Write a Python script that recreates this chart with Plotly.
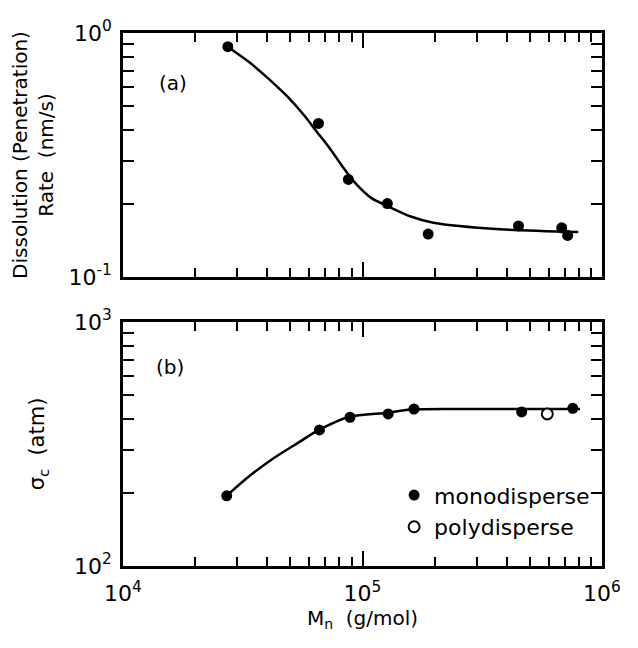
import plotly.graph_objects as go
from plotly.subplots import make_subplots

# (a) dissolution rate, monodisperse points
rate_mn = [27400, 65500, 87300, 127000, 188000, 448000, 679000, 719000]
rate_val = [0.879, 0.426, 0.251, 0.200, 0.150, 0.162, 0.159, 0.148]
# (a) hand-drawn trend curve
rate_curve_mn = [27350, 33500, 40360, 48640, 56890, 64420, 72950, 82600, 93540,
                 109400, 127600, 158900, 197700, 375000, 796000]
rate_curve_val = [0.879, 0.762, 0.652, 0.548, 0.461, 0.394, 0.337, 0.283, 0.242,
                  0.210, 0.195, 0.177, 0.167, 0.157, 0.153]

# (b) critical stress
sig_mono_mn = [27100, 66100, 88700, 128000, 164000, 462000, 755000]
sig_mono_val = [194, 361, 407, 420, 440, 428, 443]
sig_poly_mn = [591000]
sig_poly_val = [420]
sig_curve_mn = [27100, 33420, 41500, 53330, 65770, 87700, 127400, 158500, 300000, 500000, 809000]
sig_curve_val = [194, 232, 272, 318, 361, 408, 425, 438, 440, 440, 440]

x_tickvals = [1e4, 1e5, 1e6]
x_ticktext = ["10<sup>4</sup>", "10<sup>5</sup>", "10<sup>6</sup>"]
ya_tickvals = [0.1, 1]
ya_ticktext = ["10<sup>-1</sup>", "10<sup>0</sup>"]
yb_tickvals = [100, 1000]
yb_ticktext = ["10<sup>2</sup>", "10<sup>3</sup>"]

FONT = "DejaVu Sans"
fig = make_subplots(rows=2, cols=1, shared_xaxes=False, vertical_spacing=0.0845)

fig.add_trace(go.Scatter(x=rate_curve_mn, y=rate_curve_val, mode="lines",
                         line=dict(color="black", width=2.5, shape="spline", smoothing=0.8),
                         showlegend=False, hoverinfo="skip"), row=1, col=1)
fig.add_trace(go.Scatter(x=rate_mn, y=rate_val, mode="markers", marker=dict(color="black", size=11),
                         showlegend=False), row=1, col=1)

fig.add_trace(go.Scatter(x=sig_curve_mn, y=sig_curve_val, mode="lines",
                         line=dict(color="black", width=2.5, shape="spline", smoothing=0.8),
                         showlegend=False, hoverinfo="skip"), row=2, col=1)
fig.add_trace(go.Scatter(x=sig_mono_mn, y=sig_mono_val, mode="markers", name="monodisperse",
                         marker=dict(color="black", size=11)), row=2, col=1)
fig.add_trace(go.Scatter(x=sig_poly_mn, y=sig_poly_val, mode="markers", name="polydisperse",
                         marker=dict(color="white", size=11, symbol="circle", line=dict(color="black", width=2))),
              row=2, col=1)

def minor_vals(lo, hi):
    return [m * 10 ** e for e in range(lo, hi) for m in range(2, 10)]

common = dict(type="log", showline=True, linecolor="black", linewidth=2.5, mirror="allticks",
              ticks="inside", ticklen=15, tickwidth=2, tickcolor="black", showgrid=False, zeroline=False,
              automargin=False, tickfont=dict(family=FONT, size=22, color="black"))

fig.update_xaxes(range=[4, 6], tickvals=x_tickvals, ticktext=x_ticktext,
                 minor=dict(tickvals=minor_vals(4, 6), ticks="inside", ticklen=9, tickwidth=1.5,
                            tickcolor="black", showgrid=False),
                 **common)
fig.update_xaxes(showticklabels=False, row=1, col=1)
fig.update_xaxes(ticklabelstandoff=6,
                 title=dict(text="M<sub>n</sub>  (g/mol)", font=dict(family=FONT, size=20, color="black"), standoff=6),
                 row=2, col=1)

fig.update_yaxes(range=[-1, 0], tickvals=ya_tickvals, ticktext=ya_ticktext,
                 minor=dict(tickvals=minor_vals(-1, 0), ticks="inside", ticklen=11, tickwidth=1.5,
                            tickcolor="black", showgrid=False),
                 title=dict(text="Dissolution (Penetration)<br>Rate  (nm/s)",
                            font=dict(family=FONT, size=20, color="black"), standoff=10),
                 ticklabelstandoff=4, row=1, col=1, **common)
fig.update_yaxes(range=[2, 3], tickvals=yb_tickvals, ticktext=yb_ticktext,
                 minor=dict(tickvals=minor_vals(2, 3), ticks="inside", ticklen=11, tickwidth=1.5,
                            tickcolor="black", showgrid=False),
                 title=dict(text="σ<sub>c</sub>  (atm)", font=dict(family=FONT, size=21, color="black"), standoff=24),
                 ticklabelstandoff=4, row=2, col=1, **common)

fig.add_annotation(text="(a)", xref="x domain", yref="y domain", x=0.104, y=0.795, showarrow=False,
                   font=dict(family=FONT, size=20, color="black"), xanchor="center", yanchor="middle")
fig.add_annotation(text="(b)", xref="x2 domain", yref="y2 domain", x=0.098, y=0.816, showarrow=False,
                   font=dict(family=FONT, size=20, color="black"), xanchor="center", yanchor="middle")

fig.update_layout(
    width=638, height=648,
    margin=dict(l=123, r=36, t=33, b=82),
    paper_bgcolor="white", plot_bgcolor="white",
    font=dict(family=FONT, color="black"),
    legend=dict(x=0.566, y=0.172, xref="paper", yref="paper", xanchor="left", yanchor="top",
                bgcolor="rgba(0,0,0,0)", font=dict(family=FONT, size=22, color="black"),
                itemwidth=30, tracegroupgap=0),
)
fig.update_layout(yaxis=dict(domain=[0.5422, 1.0]), yaxis2=dict(domain=[0.0, 0.4578]))

fig.write_html("out.html", config={"displayModeBar": False},
               post_script="document.body.style.margin='0';document.body.style.overflow='hidden';")
